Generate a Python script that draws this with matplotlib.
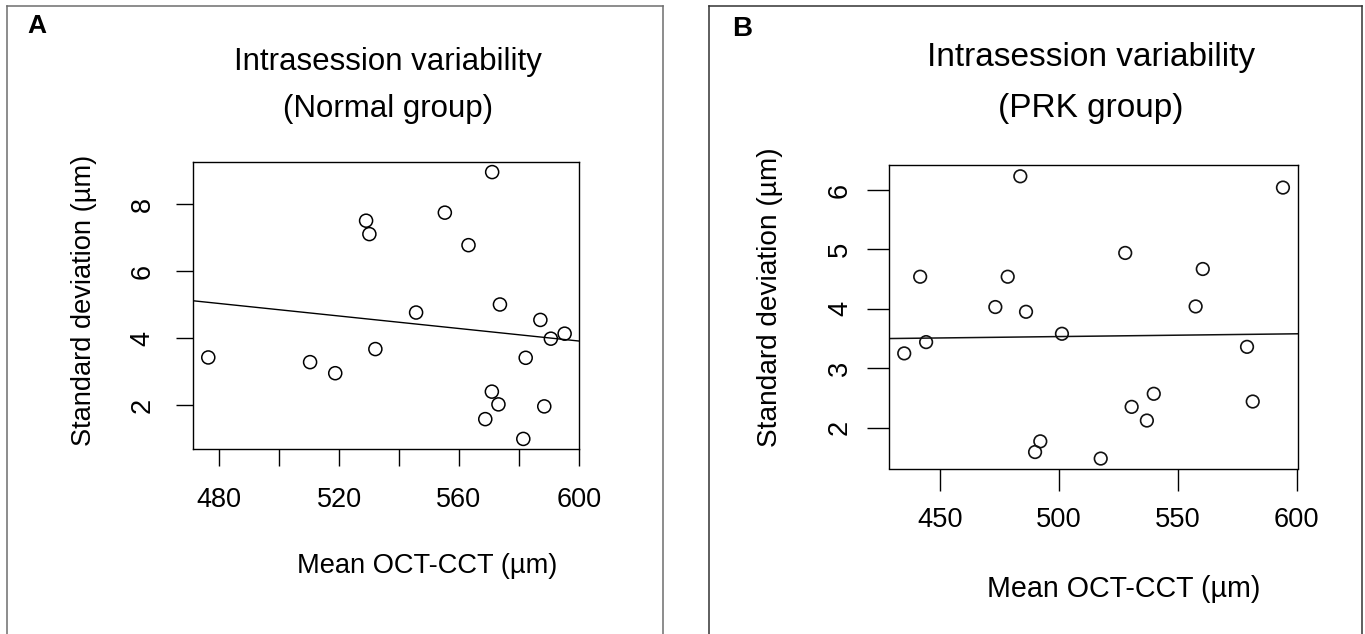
import matplotlib
matplotlib.use("Agg")
import matplotlib.pyplot as plt
from matplotlib.lines import Line2D

# ---------------- data ----------------
normal_mean_cct = [476.3, 510.3, 518.7, 529.0, 530.1, 532.1, 545.7, 555.3, 563.2, 571.1,
                   573.7, 571.0, 573.2, 568.8, 582.3, 581.5, 587.2, 588.5, 590.7, 595.3]
normal_sd = [3.43, 3.29, 2.96, 7.51, 7.11, 3.68, 4.77, 7.75, 6.78, 8.96,
             5.01, 2.41, 2.03, 1.59, 3.42, 1.00, 4.55, 1.97, 3.99, 4.14]
normal_fit_intercept = 9.513
normal_fit_slope = -0.00932

prk_mean_cct = [483.8, 594.2, 527.9, 560.5, 441.7, 478.5, 473.3, 486.2, 557.5, 501.3,
                444.2, 435.0, 579.1, 539.9, 530.6, 537.0, 581.5, 492.2, 490.0, 517.6]
prk_sd = [6.23, 6.04, 4.94, 4.67, 4.54, 4.54, 4.03, 3.95, 4.04, 3.58,
          3.44, 3.25, 3.36, 2.57, 2.35, 2.12, 2.44, 1.77, 1.59, 1.48]
prk_fit_intercept = 3.30
prk_fit_slope = 0.000466

normal_xticks = [480, 500, 520, 540, 560, 580, 600]
normal_xticklabels = ["480", "", "520", "", "560", "", "600"]
normal_yticks = [2, 4, 6, 8]
prk_xticks = [450, 500, 550, 600]
prk_yticks = [2, 3, 4, 5, 6]

title_line1 = "Intrasession variability"
normal_title2 = "(Normal group)"
prk_title2 = "(PRK group)"
xlabel = "Mean OCT-CCT (\u00b5m)"
ylabel = "Standard deviation (\u00b5m)"

# ---------------- figure ----------------
W, H = 1365, 634
plt.rcParams['font.family'] = ['Liberation Sans', 'DejaVu Sans']
fig = plt.figure(figsize=(W / 100, H / 100), dpi=100)
fig.patch.set_facecolor('white')


def fx(x):
    return x / W


def fy(y):
    return 1 - y / H


def add_axes(l, t, r, b):
    return fig.add_axes([fx(l), fy(b), (r - l) / W, (b - t) / H])


def style(ax, ticklen, xpad, ypad, fs):
    for s in ax.spines.values():
        s.set_linewidth(1.0)
        s.set_color('black')
    ax.tick_params(axis='both', direction='out', length=ticklen, width=1.0,
                   labelsize=fs, colors='black')
    ax.tick_params(axis='x', pad=xpad)
    ax.tick_params(axis='y', pad=ypad)
    ax.set_facecolor('none')


# ---- Panel A ----
axA = add_axes(193.3, 161.7, 579.0, 449.3)
axA.scatter(normal_mean_cct, normal_sd, s=88, facecolors='none', edgecolors='black',
            linewidths=1.1, zorder=3)
axA.axline((0, normal_fit_intercept), slope=normal_fit_slope, color='black', lw=1.0)
axA.set_xlim(471.3, 600.1)
axA.set_ylim(0.69, 9.27)
axA.set_xticks(normal_xticks)
axA.set_xticklabels(normal_xticklabels)
axA.set_yticks(normal_yticks)
axA.set_yticklabels([str(v) for v in normal_yticks], rotation=90, va='center')
style(axA, 12.2, 15.0, 15.0, 19.5)

fig.text(fx(388), fy(70), title_line1, ha='center', va='baseline', fontsize=22.5)
fig.text(fx(388), fy(117), normal_title2, ha='center', va='baseline', fontsize=22.5)
fig.text(fx(426.7), fy(573), xlabel, ha='center', va='baseline', fontsize=19.6)
fig.text(fx(84), fy(300), ylabel, ha='center', va='center', rotation=90, fontsize=19.6)
fig.text(fx(27), fy(33), "A", ha='left', va='baseline', fontsize=19, fontweight='bold')

# ---- Panel B ----
axB = add_axes(889.0, 165.0, 1297.7, 468.5)
axB.scatter(prk_mean_cct, prk_sd, s=82, facecolors='none', edgecolors='#111111',
            linewidths=1.2, zorder=3)
axB.axline((0, prk_fit_intercept), slope=prk_fit_slope, color='#111111', lw=1.1)
axB.set_xlim(428.6, 600.4)
axB.set_ylim(1.313, 6.42)
axB.set_xticks(prk_xticks)
axB.set_xticklabels([str(v) for v in prk_xticks])
axB.set_yticks(prk_yticks)
axB.set_yticklabels([str(v) for v in prk_yticks], rotation=90, va='center')
style(axB, 16.0, 11.7, 10.0, 19.6)

fig.text(fx(1091), fy(66), title_line1, ha='center', va='baseline', fontsize=24)
fig.text(fx(1091), fy(117), prk_title2, ha='center', va='baseline', fontsize=24)
fig.text(fx(1123.8), fy(597), xlabel, ha='center', va='baseline', fontsize=20.6)
fig.text(fx(770), fy(297), ylabel, ha='center', va='center', rotation=90, fontsize=20.2)
fig.text(fx(732), fy(36), "B", ha='left', va='baseline', fontsize=20, fontweight='bold')

# ---- panel frames ----
def frame(l, t, r, color):
    fig.add_artist(Line2D([fx(l), fx(l)], [fy(t), fy(H + 5)], color=color, lw=1.1))
    fig.add_artist(Line2D([fx(r), fx(r)], [fy(t), fy(H + 5)], color=color, lw=1.1))
    fig.add_artist(Line2D([fx(l), fx(r)], [fy(t), fy(t)], color=color, lw=1.1))


frame(6.7, 6.0, 662.7, '#6e6e6e')
frame(709.0, 6.0, 1362.0, '#333333')

fig.savefig("out.png", dpi=100, facecolor='white')
